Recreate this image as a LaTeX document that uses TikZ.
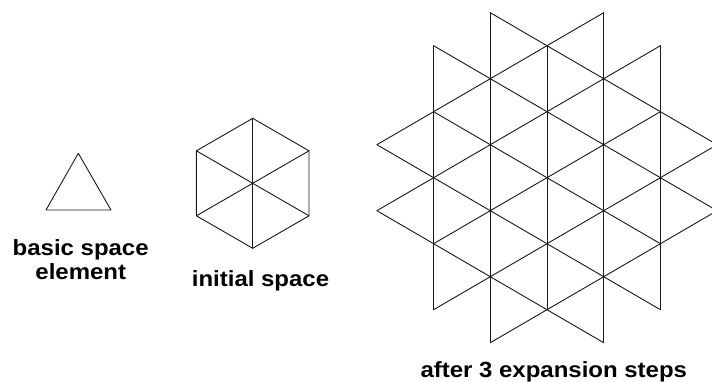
\documentclass[tikz,border=0pt]{standalone}
\usepackage{fontspec}
\newfontfamily\lblfont[FakeStretch=1.09]{Liberation Sans}
\tikzset{
  edge/.style={draw=black!90, line width=0.9pt, line cap=round, line join=round},
  lbl/.style={font=\lblfont\bfseries\fontsize{22pt}{23.5pt}\selectfont, anchor=base, inner sep=0pt, align=center}
}
\begin{document}
\begin{tikzpicture}[x=1pt,y=-1pt]
\fill[white] (0,0) rectangle (712,381);
\useasboundingbox (0,0) rectangle (712,381);

% basic space element
\coordinate (tA) at (78.3,153.3);
\coordinate (tB) at (46,210);
\coordinate (tC) at (111,210);
\draw[edge] (tA) -- (tB) -- (tC) -- cycle;

% initial space (hexagon)
\begin{scope}[shift={(252.7pt,-183.3pt)}]
  \coordinate (hO) at (0,0);
  \foreach \i/\a in {1/90,2/30,3/-30,4/-90,5/-150,6/150}
    \coordinate (h\i) at (\a:65pt);
\end{scope}
\draw[edge] (h1) -- (h2) -- (h3) -- (h4) -- (h5) -- (h6) -- cycle;
\draw[edge] (h1) -- (h4);
\draw[edge] (h2) -- (h5);
\draw[edge] (h3) -- (h6);

% after 3 expansion steps
\begin{scope}[shift={(547pt,-177.7pt)}, x=56.7pt, y=-33pt]
  % verticals
  \foreach \c/\ra/\rb in {-2/-4/4, -1/-5/5, 0/-4/4, 1/-5/5, 2/-4/4}
    \draw[edge] (\c,\ra) -- (\c,\rb);
  % down-right diagonals
  \foreach \ca/\ra/\cb/\rb in {-1/-5/3/-1, -2/-4/3/1, -2/-2/2/2, -3/-1/2/4, -3/1/1/5}
    \draw[edge] (\ca,\ra) -- (\cb,\rb);
  % up-right diagonals
  \foreach \ca/\ra/\cb/\rb in {-3/-1/1/-5, -3/1/2/-4, -2/2/2/-2, -2/4/3/-1, -1/5/3/1}
    \draw[edge] (\ca,\ra) -- (\cb,\rb);
\end{scope}

% labels
\node[lbl] (l1) at (80.7,255.7) {basic space};
\node[lbl] (l2) at (80.8,279.3) {element};
\node[lbl] (l3) at (260.5,286.7) {initial space};
\node[lbl] (l4) at (553.8,377.3) {after 3 expansion steps};
\end{tikzpicture}
\end{document}
